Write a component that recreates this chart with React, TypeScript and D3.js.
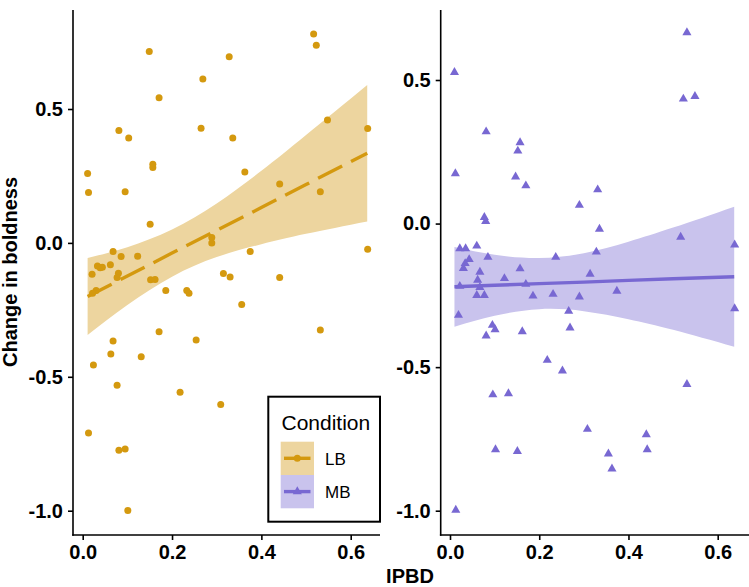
import React, { useEffect, useRef } from "react";
import * as d3 from "d3";

// LB condition: IPBD vs change in boldness
const lbIpbd = [
  0.011, 0.013, 0.149, 0.171, 0.081, 0.103, 0.095, 0.157, 0.157, 0.151,
  0.269, 0.328, 0.265, 0.336, 0.363, 0.289, 0.289, 0.375, 0.315, 0.33,
  0.441, 0.441, 0.517, 0.523, 0.548, 0.532, 0.638, 0.638, 0.068, 0.086,
  0.123, 0.021, 0.033, 0.039, 0.044, 0.062, 0.08, 0.077, 0.152, 0.162,
  0.186, 0.233, 0.238, 0.03, 0.022, 0.356, 0.171, 0.254, 0.532, 0.068,
  0.063, 0.024, 0.131, 0.077, 0.218, 0.309, 0.013, 0.081, 0.095, 0.101,
];
const lbChange = [
  0.259, 0.188, 0.715, 0.542, 0.42, 0.392, 0.191, 0.294, 0.282, 0.07,
  0.612, 0.695, 0.428, 0.392, 0.265, 0.02, 0.0, -0.032, -0.114, -0.127,
  -0.129, 0.22, 0.78, 0.738, 0.459, 0.191, 0.427, -0.024, -0.032, -0.051,
  -0.05, -0.117, -0.086, -0.093, -0.091, -0.082, -0.113, -0.129, -0.138, -0.137,
  -0.178, -0.178, -0.188, -0.178, -0.188, -0.23, -0.332, -0.363, -0.325, -0.366,
  -0.415, -0.456, -0.425, -0.532, -0.558, -0.603, -0.71, -0.774, -0.77, -0.999,
];

// MB condition
const mbIpbd = [
  0.01, 0.012, 0.081, 0.157, 0.152, 0.147, 0.17, 0.077, 0.08, 0.29,
  0.331, 0.335, 0.328, 0.531, 0.523, 0.549, 0.517, 0.638, 0.022, 0.035,
  0.06, 0.043, 0.034, 0.03, 0.085, 0.237, 0.067, 0.157, 0.314, 0.122,
  0.062, 0.17, 0.022, 0.067, 0.374, 0.06, 0.077, 0.186, 0.231, 0.29,
  0.019, 0.266, 0.638, 0.095, 0.101, 0.081, 0.162, 0.269, 0.218, 0.252,
  0.531, 0.096, 0.131, 0.308, 0.44, 0.442, 0.102, 0.151, 0.355, 0.363,
  0.013,
];
const mbChange = [
  0.527, 0.174, 0.32, 0.282, 0.253, 0.163, 0.132, 0.022, 0.008, 0.064,
  0.118, -0.019, -0.099, 0.665, 0.434, 0.443, -0.047, -0.074, -0.087, -0.087,
  -0.078, -0.125, -0.139, -0.156, -0.117, -0.117, -0.169, -0.157, -0.176, -0.191,
  -0.197, -0.211, -0.218, -0.222, -0.235, -0.25, -0.25, -0.252, -0.246, -0.255,
  -0.319, -0.305, -0.296, -0.354, -0.369, -0.391, -0.376, -0.363, -0.476, -0.513,
  -0.56, -0.596, -0.592, -0.716, -0.735, -0.787, -0.787, -0.793, -0.802, -0.854,
  -0.998,
];

// fitted lines and confidence bands
const lbBandX = [0.011, 0.1, 0.2, 0.3, 0.4, 0.5, 0.637];
const lbFit = [-0.2, -0.124, -0.038, 0.047, 0.132, 0.218, 0.335];
const lbLower = [-0.344, -0.232, -0.126, -0.053, -0.005, 0.034, 0.08];
const lbUpper = [-0.056, -0.016, 0.05, 0.147, 0.269, 0.403, 0.59];

const mbBandX = [0.01, 0.1, 0.2, 0.3, 0.4, 0.5, 0.637];
const mbFit = [-0.22, -0.215, -0.209, -0.204, -0.198, -0.192, -0.185];
const mbLower = [-0.359, -0.321, -0.298, -0.305, -0.333, -0.37, -0.429];
const mbUpper = [-0.082, -0.109, -0.12, -0.103, -0.063, -0.014, 0.059];

const xTicks = [0, 0.2, 0.4, 0.6];
const yTicks = [-1.0, -0.5, 0.0, 0.5];
const conditions = ["LB", "MB"];

const App: React.FC = () => {
  const svgRef = useRef<SVGSVGElement>(null);

  useEffect(() => {
    if (!svgRef.current) return;
    const svg = d3.select(svgRef.current);
    svg.selectAll("*").remove();

    const font = "'Liberation Sans', Arial, Helvetica, sans-serif";
    const top = 10;
    const bottom = 535;

    const panels = [
      {
        ipbd: lbIpbd, change: lbChange,
        bandX: lbBandX, fit: lbFit, lower: lbLower, upper: lbUpper,
        left: 73, right: 380, xRange: [82.7, 350.7], yRange: [510.7, 109],
        color: "#D4990F", fill: "#EDD59F", dashed: true, shape: "circle",
      },
      {
        ipbd: mbIpbd, change: mbChange,
        bandX: mbBandX, fit: mbFit, lower: mbLower, upper: mbUpper,
        left: 440.7, right: 749, xRange: [450, 717.7], yRange: [510.7, 80],
        color: "#7868D2", fill: "#C9C3ED", dashed: false, shape: "triangle",
      },
    ];

    const triangle = d3.symbol().type(d3.symbolTriangle).size(36);

    panels.forEach((p) => {
      const x = d3.scaleLinear().domain([0, 0.6]).range(p.xRange);
      const y = d3.scaleLinear().domain([-1, 0.5]).range(p.yRange);
      const g = svg.append("g");
      const idx = d3.range(p.bandX.length);

      // confidence band
      const area = d3
        .area<number>()
        .x((i) => x(p.bandX[i]))
        .y0((i) => y(p.lower[i]))
        .y1((i) => y(p.upper[i]))
        .curve(d3.curveNatural);
      g.append("path").attr("d", area(idx)).attr("fill", p.fill);

      // fitted line
      const line = d3
        .line<number>()
        .x((i) => x(p.bandX[i]))
        .y((i) => y(p.fit[i]));
      g.append("path")
        .attr("d", line(idx))
        .attr("fill", "none")
        .attr("stroke", p.color)
        .attr("stroke-width", 3.4)
        .attr("stroke-dasharray", p.dashed ? "27,10" : null);

      // points
      const pts = p.ipbd.map((v, i) => ({ x: v, y: p.change[i] }));
      if (p.shape === "circle") {
        g.selectAll(".pt")
          .data(pts)
          .enter()
          .append("circle")
          .attr("cx", (d) => x(d.x))
          .attr("cy", (d) => y(d.y))
          .attr("r", 3.5)
          .attr("fill", p.color);
      } else {
        g.selectAll(".pt")
          .data(pts)
          .enter()
          .append("path")
          .attr("d", triangle)
          .attr("transform", (d) => `translate(${x(d.x)},${y(d.y)})`)
          .attr("fill", p.color);
      }

      // axes
      const yAxis = d3
        .axisLeft(y)
        .tickValues(yTicks)
        .tickFormat((d) => (+d).toFixed(1))
        .tickSize(5)
        .tickPadding(5);
      const xAxis = d3
        .axisBottom(x)
        .tickValues(xTicks)
        .tickFormat((d) => (+d).toFixed(1))
        .tickSize(5)
        .tickPadding(5);

      [
        g.append("g").attr("transform", `translate(${p.left},0)`).call(yAxis),
        g.append("g").attr("transform", `translate(0,${bottom})`).call(xAxis),
      ].forEach((ax) => {
        ax.select(".domain").remove();
        ax.attr("font-family", font).attr("font-size", 20).attr("font-weight", "bold");
        ax.selectAll("line").attr("stroke", "#000").attr("stroke-width", 1.6);
        ax.selectAll("text").attr("fill", "#000");
      });

      g.append("line")
        .attr("x1", p.left).attr("x2", p.left)
        .attr("y1", top).attr("y2", bottom + 0.8)
        .attr("stroke", "#000").attr("stroke-width", 1.6);
      g.append("line")
        .attr("x1", p.left - 0.8).attr("x2", p.right)
        .attr("y1", bottom).attr("y2", bottom)
        .attr("stroke", "#000").attr("stroke-width", 1.6);
    });

    // axis titles
    svg.append("text")
      .attr("transform", "translate(17,272) rotate(-90)")
      .attr("text-anchor", "middle")
      .attr("font-family", font)
      .attr("font-size", 20)
      .attr("font-weight", "bold")
      .text("Change in boldness");
    svg.append("text")
      .attr("x", 410)
      .attr("y", 583)
      .attr("text-anchor", "middle")
      .attr("font-family", font)
      .attr("font-size", 20)
      .attr("font-weight", "bold")
      .text("IPBD");

    // legend
    const lg = svg.append("g").attr("font-family", font);
    lg.append("rect")
      .attr("x", 268.3).attr("y", 396.7)
      .attr("width", 111.7).attr("height", 125)
      .attr("fill", "#fff").attr("stroke", "#000").attr("stroke-width", 2);
    lg.append("text")
      .attr("x", 281.5).attr("y", 430)
      .attr("font-size", 21)
      .text("Condition");
    conditions.forEach((c, i) => {
      const p = panels[i];
      const ky = 441.7 + i * 33.3;
      const cy = ky + 16.6;
      lg.append("rect")
        .attr("x", 280.7).attr("y", ky)
        .attr("width", 33.3).attr("height", 33.3)
        .attr("fill", p.fill);
      lg.append("line")
        .attr("x1", 284).attr("x2", 310.5)
        .attr("y1", cy).attr("y2", cy)
        .attr("stroke", p.color).attr("stroke-width", 3.4);
      if (p.shape === "circle") {
        lg.append("circle").attr("cx", 297.3).attr("cy", cy).attr("r", 3.5).attr("fill", p.color);
      } else {
        lg.append("path").attr("d", triangle).attr("transform", `translate(297.3,${cy})`).attr("fill", p.color);
      }
      lg.append("text")
        .attr("x", 325).attr("y", cy + 6.2)
        .attr("font-size", 17)
        .text(c);
    });
  }, []);

  return (
    <svg
      ref={svgRef}
      width={749}
      height={587}
      style={{ position: "absolute", left: 0, top: 0, background: "#fff" }}
    />
  );
};

export default App;
